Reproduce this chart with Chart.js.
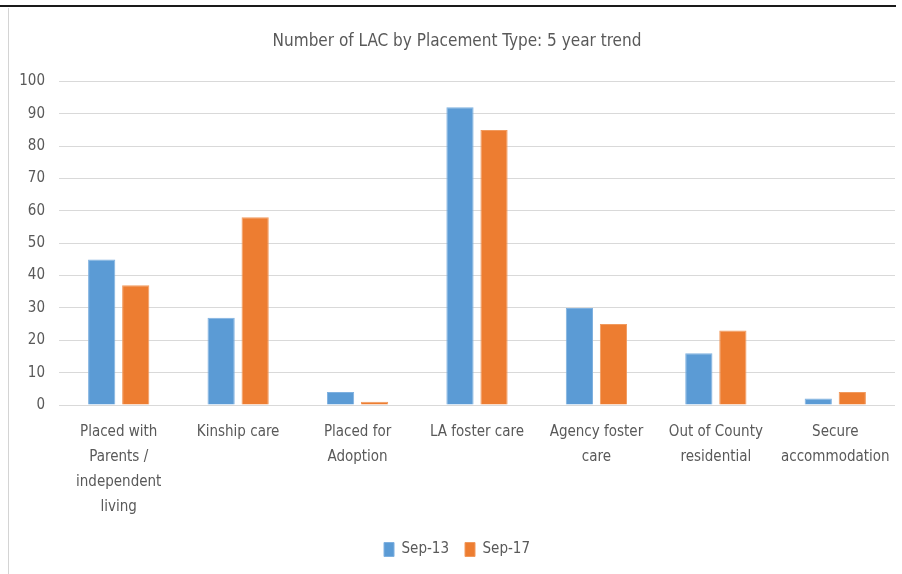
<!DOCTYPE html>
<html>
<head>
<meta charset="utf-8">
<script src="https://cdn.jsdelivr.net/npm/chart.js@4.4.1/dist/chart.umd.min.js"></script>
<style>
  html, body { margin: 0; padding: 0; background: #fff; }
  #wrap { position: relative; width: 902px; height: 574px; }
  #topline { position: absolute; left: 0; top: 5px; width: 896px; height: 2px; background: #1a1a1a; }
  #leftline { position: absolute; left: 8px; top: 8px; width: 1px; height: 566px; background: #d4d4d4; }
  #box { position: absolute; left: 9px; top: 8px; width: 893px; height: 566px; }
</style>
</head>
<body>
<div id="wrap">
  <div id="topline"></div>
  <div id="leftline"></div>
  <div id="box"><canvas id="myChart"></canvas></div>
</div>
<script>
  const categories = [
    ['Placed with', 'Parents /', 'independent', 'living'],
    'Kinship care',
    ['Placed for', 'Adoption'],
    'LA foster care',
    ['Agency foster', 'care'],
    ['Out of County', 'residential'],
    ['Secure', 'accommodation']
  ]
  const sep13 = [45, 27, 4, 92, 30, 16, 2]
  const sep17 = [37, 58, 1, 85, 25, 23, 4]
  const yTicks = [0, 10, 20, 30, 40, 50, 60, 70, 80, 90, 100]

  const fontFam = "'DejaVu Sans Condensed', 'Liberation Sans', sans-serif"
  const grey = '#595959'

  const ctx = document.getElementById('myChart').getContext('2d')

  const data = {
    labels: categories,
    datasets: [{
      label: 'Sep-13',
      data: sep13,
      backgroundColor: '#5b9bd5',
      borderColor: '#7fb1e0',
      borderWidth: 1,
    }, {
      label: 'Sep-17',
      data: sep17,
      backgroundColor: '#ed7d31',
      borderColor: '#f19a5e',
      borderWidth: 1,
    }]
  }

  const config = {
    type: 'bar',
    data: data,
    options: {
      responsive: true,
      maintainAspectRatio: false,
      animation: false,
      categoryPercentage: 0.57,
      barPercentage: 0.8,
      layout: { padding: { left: 10, right: 7, top: 23, bottom: 7 } },
      plugins: {
        title: {
          display: true,
          text: 'Number of LAC by Placement Type: 5 year trend',
          color: grey,
          font: { family: fontFam, size: 17, weight: 'normal' },
          padding: { top: 0, bottom: 30 }
        },
        legend: {
          position: 'bottom',
          labels: {
            color: grey,
            font: { family: fontFam, size: 15 },
            boxWidth: 10,
            boxHeight: 14,
            padding: 16
          }
        },
        tooltip: { enabled: false }
      },
      scales: {
        x: {
          grid: { display: false },
          border: { display: false },
          ticks: {
            color: grey,
            font: { family: fontFam, size: 15, lineHeight: 1.65 },
            maxRotation: 0,
            autoSkip: false,
            padding: 7
          }
        },
        y: {
          min: 0,
          max: 100,
          afterBuildTicks: axis => { axis.ticks = yTicks.map(v => ({ value: v })) },
          afterFit: axis => { axis.width = 40 },
          grid: { color: '#d9d9d9', drawTicks: false },
          border: { display: false },
          ticks: {
            color: grey,
            font: { family: fontFam, size: 15 },
            padding: 14
          }
        }
      }
    }
  }

  const myChart = new Chart(ctx, config)
</script>
</body>
</html>
